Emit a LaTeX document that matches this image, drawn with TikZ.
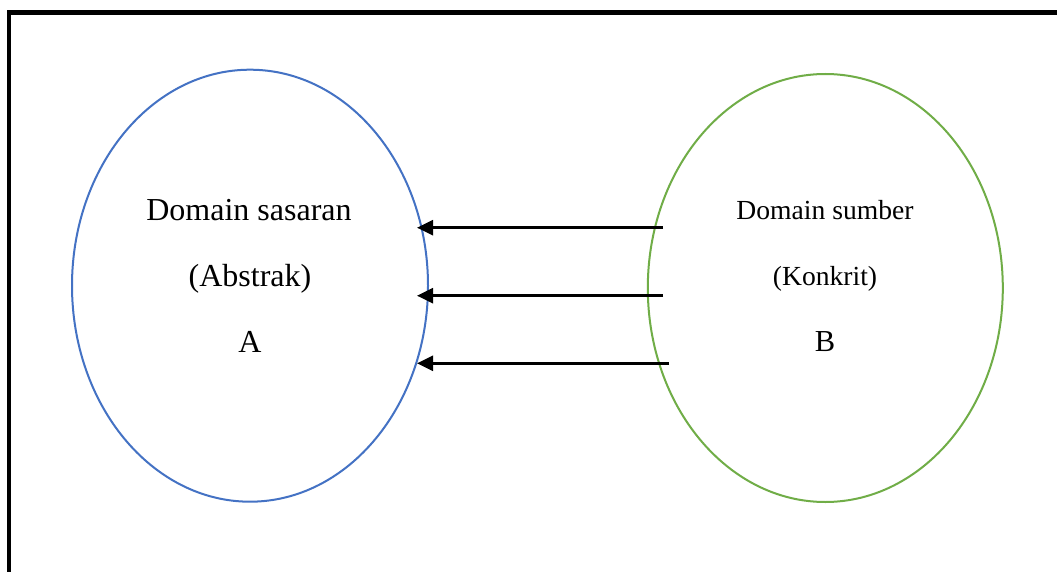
\documentclass[tikz,border=0pt]{standalone}
\usepackage{fontspec}
\setmainfont{Liberation Serif}
\usetikzlibrary{shapes.geometric,arrows.meta}
\definecolor{ablue}{HTML}{4472C4}
\definecolor{agreen}{HTML}{70AD47}
\tikzset{
  domainellipse/.style={ellipse, draw, line width=2pt, inner sep=0pt},
  bigtext/.style={anchor=base, inner sep=0pt, font=\fontsize{32}{38}\selectfont},
  smalltext/.style={anchor=base, inner sep=0pt, font=\fontsize{27.6}{33}\selectfont},
  maparrow/.style={line width=2.5pt, -{Triangle[length=16pt,width=15pt]}}
}
\begin{document}
\begin{tikzpicture}[x=1pt,y=-1pt]
\useasboundingbox (0,0) rectangle (1057,572);
\fill[white] (0,0) rectangle (1057,572);
\draw[line width=4.5pt] (9,572) -- (9,12.5) -- (1057,12.5);
\node (tgt) [domainellipse, draw=ablue, minimum width=356pt, minimum height=432pt] at (250,285.7) {};
\node (src) [domainellipse, draw=agreen, minimum width=355pt, minimum height=428pt] at (825.3,288) {};
\node (t1) [bigtext] at (249,220) {Domain sasaran};
\node (t2) [bigtext] at (250,286) {(Abstrak)};
\node (t3) [bigtext] at (250,352) {A};
\node (s1) [smalltext] at (825,219.3) {Domain sumber};
\node (s2) [smalltext] at (825,285.5) {(Konkrit)};
\node (s3) [smalltext, font=\fontsize{30.5}{36}\selectfont] at (825,351.7) {B};
\coordinate (a1s) at (663,227.7);
\coordinate (a1e) at (417,227.7);
\coordinate (a2s) at (663,295.7);
\coordinate (a2e) at (417,295.7);
\coordinate (a3s) at (669,363.3);
\coordinate (a3e) at (417,363.3);
\draw[maparrow] (a1s) -- (a1e);
\draw[maparrow] (a2s) -- (a2e);
\draw[maparrow] (a3s) -- (a3e);
\end{tikzpicture}
\end{document}
